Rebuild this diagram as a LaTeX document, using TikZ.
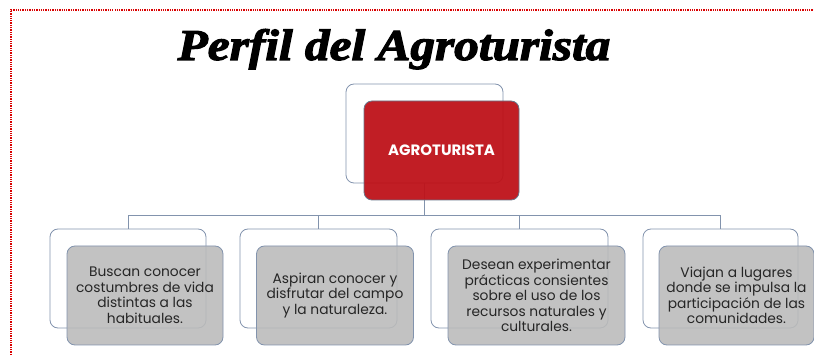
\documentclass[tikz,border=0pt]{standalone}
\usepackage{fontspec}
\setmainfont{Poppins}
\newfontfamily\titlefont[FakeBold=2.5]{Liberation Serif}
\definecolor{boxline}{HTML}{8293AD}
\definecolor{agrored}{HTML}{BE1219}
\definecolor{boxgray}{HTML}{BBBBBB}
\definecolor{textgray}{HTML}{262626}
\tikzset{
	backbox/.style={draw=boxline, thick, rounded corners=8pt, minimum width=156pt, minimum height=99pt},
	frontbox/.style={draw=boxline, thick, rounded corners=8pt, minimum width=156pt, minimum height=99pt,
		fill=boxgray, fill opacity=.9, text opacity=1, align=center, text=textgray,
		font=\fontsize{13.8}{15.5}\selectfont, inner sep=1pt},
	conn/.style={draw=boxline, thick}
}
\begin{document}
\begin{tikzpicture}[x=1pt,y=-1pt]
	\useasboundingbox (0,0) rectangle (814,355);
	\draw[red!85!black, line width=1.3pt, dash pattern=on 1.3pt off 1pt] (11,355) -- (11,10) -- (814,10);
	
	\node[anchor=base, xscale=1.12, font=\titlefont\bfseries\itshape\fontsize{44}{44}\selectfont] (title) at (394,60) {Perfil del Agroturista};
	
	% back boxes
	\node[backbox, minimum width=157pt] (pb) at (424.5,133.5) {};
	\node[backbox] (b1) at (128,278.5) {};
	\node[backbox, minimum width=157pt] (b2) at (318.5,278.5) {};
	\node[backbox, minimum width=177pt] (b3) at (519.5,278.5) {};
	\node[backbox, minimum width=155pt] (b4) at (720.5,278.5) {};
	
	% connectors
	\coordinate (bar) at (424.5,215);
	\draw[conn] (pb.south) -- (bar);
	\foreach \i in {1,...,4}
		\draw[conn] (bar) -| (b\i.north);
	
	% front boxes
	\node[frontbox, draw=boxline!80!black, fill=agrored, fill opacity=.95, text=white, minimum width=155pt,
		font=\bfseries\fontsize{15}{15}\selectfont] (p) at (441.5,150.5) {AGROTURISTA};
	\node[frontbox] (c1) at (145,295.5) {Buscan conocer\\costumbres de vida\\distintas a las\\habituales.};
	\node[frontbox, minimum width=157pt] (c2) at (335,295.5) {Aspiran conocer y\\disfrutar del campo\\y la naturaleza.};
	\node[frontbox, minimum width=177pt] (c3) at (536.5,295.5) {Desean experimentar\\prácticas consientes\\sobre el uso de los\\recursos naturales y\\culturales.};
	\node[frontbox, minimum width=155pt] (c4) at (736.5,295.5) {Viajan a lugares\\donde se impulsa la\\participación de las\\comunidades.};
\end{tikzpicture}
\end{document}
